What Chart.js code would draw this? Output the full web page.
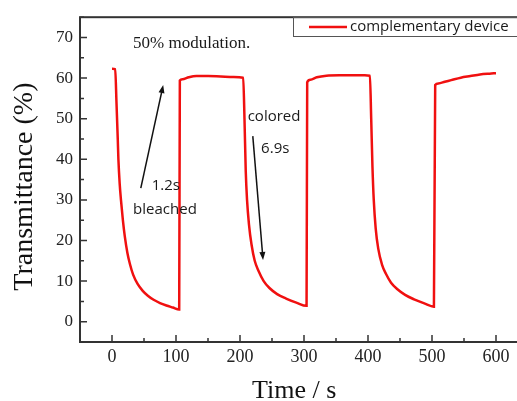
<!DOCTYPE html>
<html lang="en">
<head>
<meta charset="UTF-8">
<title>Transmittance switching</title>
<script src="https://cdn.jsdelivr.net/npm/chart.js@4"></script>
<style>
  html, body { margin: 0; padding: 0; background: #fff; overflow: hidden; }
  .wrap { position: relative; width: 540px; height: 401px; }
</style>
</head>
<body>
<div class="wrap"><canvas id="switchChart"></canvas></div>
<script>
// curve: time (s) and transmittance (%)
const timeS = [
  0, 5, 7, 9, 10, 12, 14, 17, 20, 24, 28, 33, 40, 48, 56, 65, 75, 85, 95, 105,
  106, 110, 120, 132, 150, 170, 190,
  205, 207, 209, 211, 214, 218, 223, 229, 237, 246, 258, 272, 288, 304,
  305, 310, 320, 335, 355, 375, 395,
  403, 405, 407, 409, 412, 416, 422, 428, 436, 446, 458, 472, 488, 503,
  505, 510, 520, 530, 545, 560, 575, 590, 600
];
const transmittance = [
  62.3, 62.2, 54, 45, 40, 34, 30, 25, 21, 17, 14.2, 11.6, 9.3, 7.6, 6.4, 5.4, 4.6, 4.0, 3.5, 3.0,
  59.4, 59.7, 60.2, 60.5, 60.5, 60.4, 60.3,
  60.1, 50, 37, 30, 24, 19, 15, 12.5, 10, 8.3, 6.8, 5.7, 4.7, 3.9,
  59.0, 59.6, 60.2, 60.6, 60.7, 60.7, 60.7,
  60.6, 50, 38, 30, 23, 18, 14, 11.8, 9.6, 8.0, 6.6, 5.5, 4.5, 3.7,
  58.3, 58.7, 59.1, 59.5, 60.1, 60.5, 60.9, 61.1, 61.2
];
const seriesName = 'complementary device';
const xTickLabels = [0, 100, 200, 300, 400, 500, 600];
const yTickLabels = [0, 10, 20, 30, 40, 50, 60, 70];

// notes on the plot, placed in data units (time, %)
const notes = [
  { text: '50% modulation.', t: 33, v: 68.5, serif: true },
  { text: '1.2s', t: 62, v: 33.6 },
  { text: 'bleached', t: 33, v: 27.7 },
  { text: 'colored', t: 212, v: 50.5 },
  { text: '6.9s', t: 233, v: 42.5 }
];
const arrows = [
  { from: [45, 32.9], to: [80, 58.3] },
  { from: [220, 45.7], to: [236, 15.2] }
];

const RED = '#f01010';
const AXIS = '#333333';

const framePlugin = {
  id: 'frame',
  afterDraw(chart) {
    const { ctx, chartArea: a, scales: { x, y } } = chart;
    ctx.save();

    // box + inward ticks
    ctx.strokeStyle = AXIS;
    ctx.lineWidth = 2;
    ctx.strokeRect(a.left, a.top, a.right - a.left, a.bottom - a.top);
    ctx.lineWidth = 1.5;
    ctx.beginPath();
    x.ticks.forEach(t => {
      const px = x.getPixelForValue(t.value);
      const len = t.value % 100 === 0 ? 7 : 4;
      ctx.moveTo(px, a.bottom);
      ctx.lineTo(px, a.bottom - len);
    });
    y.ticks.forEach(t => {
      const py = y.getPixelForValue(t.value);
      const len = t.value % 10 === 0 ? 7 : 4;
      ctx.moveTo(a.left, py);
      ctx.lineTo(a.left + len, py);
    });
    ctx.stroke();

    // legend box (runs off the right edge like the original)
    ctx.lineWidth = 1;
    ctx.strokeStyle = '#555';
    ctx.strokeRect(293.5, 17.5, 300, 19);
    ctx.strokeStyle = RED;
    ctx.lineWidth = 2.5;
    ctx.beginPath();
    ctx.moveTo(309, 27);
    ctx.lineTo(347, 27);
    ctx.stroke();
    ctx.fillStyle = '#1a1a1a';
    ctx.font = '15px "Open Sans"';
    ctx.textBaseline = 'middle';
    ctx.textAlign = 'left';
    ctx.fillText(seriesName, 350, 27);

    // notes
    notes.forEach(n => {
      ctx.font = n.serif ? '17px "Liberation Serif"' : '15px "Open Sans"';
      ctx.fillText(n.text, x.getPixelForValue(n.t), y.getPixelForValue(n.v));
    });

    // arrows
    ctx.strokeStyle = '#111';
    ctx.fillStyle = '#111';
    ctx.lineWidth = 1.5;
    arrows.forEach(ar => {
      const x0 = x.getPixelForValue(ar.from[0]), y0 = y.getPixelForValue(ar.from[1]);
      const x1 = x.getPixelForValue(ar.to[0]), y1 = y.getPixelForValue(ar.to[1]);
      const ang = Math.atan2(y1 - y0, x1 - x0);
      ctx.beginPath();
      ctx.moveTo(x0, y0);
      ctx.lineTo(x1 - 5 * Math.cos(ang), y1 - 5 * Math.sin(ang));
      ctx.stroke();
      ctx.beginPath();
      ctx.moveTo(x1, y1);
      ctx.lineTo(x1 - 8 * Math.cos(ang) + 3 * Math.sin(ang), y1 - 8 * Math.sin(ang) - 3 * Math.cos(ang));
      ctx.lineTo(x1 - 8 * Math.cos(ang) - 3 * Math.sin(ang), y1 - 8 * Math.sin(ang) + 3 * Math.cos(ang));
      ctx.closePath();
      ctx.fill();
    });
    ctx.restore();
  }
};

new Chart(document.getElementById('switchChart'), {
  type: 'line',
  data: {
    datasets: [{
      label: seriesName,
      data: timeS.map((t, i) => ({ x: t, y: transmittance[i] })),
      borderColor: RED,
      borderWidth: 2.5,
      pointRadius: 0,
      fill: false,
      cubicInterpolationMode: 'monotone'
    }]
  },
  options: {
    responsive: true,
    maintainAspectRatio: false,
    animation: false,
    layout: { padding: { top: 16, right: 12, left: 0, bottom: 0 } },
    plugins: { legend: { display: false }, tooltip: { enabled: false } },
    scales: {
      x: {
        type: 'linear',
        min: -50,
        max: 650,
        afterFit: s => { s.height = 59; },
        grid: { display: false, drawTicks: false },
        border: { display: false },
        ticks: {
          stepSize: 50,
          autoSkip: false,
          maxRotation: 0,
          padding: 4,
          color: '#222',
          font: { family: 'Liberation Serif', size: 18 },
          callback: v => xTickLabels.includes(v) ? v : ''
        },
        title: {
          display: true,
          text: 'Time / s   ',
          color: '#111',
          font: { family: 'Liberation Serif', size: 26, lineHeight: 1 },
          padding: { top: 0, bottom: -3 }
        }
      },
      y: {
        min: -5,
        max: 75,
        afterFit: s => { s.width = 80; },
        grid: { display: false, drawTicks: false },
        border: { display: false },
        ticks: {
          stepSize: 5,
          autoSkip: false,
          padding: 7,
          color: '#222',
          font: { family: 'Liberation Serif', size: 17 },
          callback: v => yTickLabels.includes(v) ? v : ''
        },
        title: {
          display: true,
          text: 'Transmittance (%)  ',
          color: '#111',
          font: { family: 'Liberation Serif', size: 28, lineHeight: 1 },
          padding: { top: 11, bottom: 0 }
        }
      }
    }
  },
  plugins: [framePlugin]
});
</script>
</body>
</html>
